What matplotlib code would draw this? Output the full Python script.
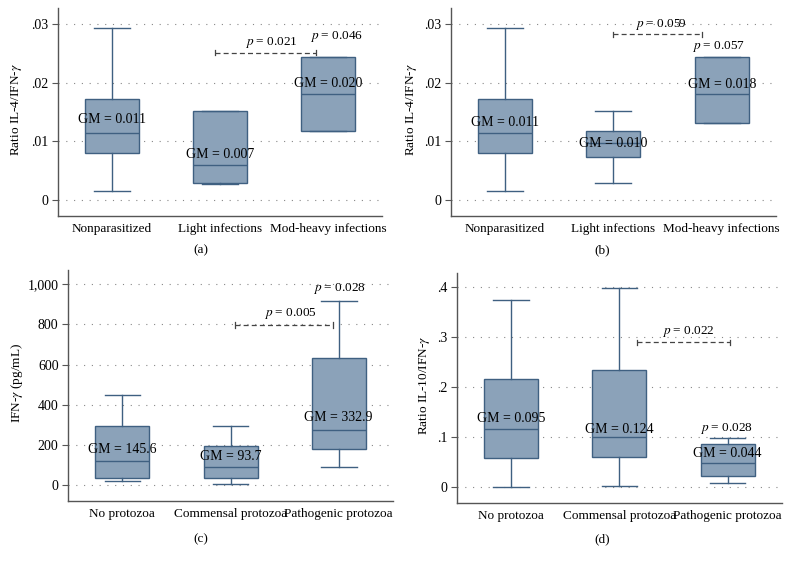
import numpy as np
import matplotlib
matplotlib.use("Agg")
import matplotlib.pyplot as plt

plt.rcParams["font.family"] = ["Liberation Serif", "DejaVu Serif"]
plt.rcParams["mathtext.fontset"] = "stix"

BOX_FILL = "#8ba2b9"
BOX_EDGE = "#3f6081"
AXIS_COL = "#555555"

# ---- data ---------------------------------------------------------------
helminth_groups = ["Nonparasitized", "Light infections", "Mod-heavy infections"]
protozoa_groups = ["No protozoa", "Commensal protozoa", "Pathogenic protozoa"]

# each row: whislo, q1, median, q3, whishi
a_stats = [[0.0016, 0.0080, 0.0114, 0.01725, 0.0293],
           [0.0028, 0.0029, 0.0059, 0.0151, 0.0151],
           [0.0118, 0.0118, 0.0180, 0.0244, 0.0244]]
a_gm = ["0.011", "0.007", "0.020"]

b_stats = [[0.0016, 0.0080, 0.0114, 0.01725, 0.0293],
           [0.0029, 0.0074, 0.0098, 0.0118, 0.0151],
           [0.0132, 0.0132, 0.0180, 0.0244, 0.0244]]
b_gm = ["0.011", "0.010", "0.018"]

c_stats = [[20, 38, 122, 297, 448],
           [8, 38, 93, 197, 297],
           [93, 182, 275, 632, 918]]
c_gm = ["145.6", "93.7", "332.9"]

d_stats = [[0.001, 0.058, 0.116, 0.217, 0.375],
           [0.0026, 0.0606, 0.100, 0.2346, 0.399],
           [0.008, 0.022, 0.049, 0.087, 0.099]]
d_gm = ["0.095", "0.124", "0.044"]

panels = [
    dict(key="a", groups=helminth_groups, stats=a_stats, gm=a_gm,
         gm_y=[0.01365, 0.0077, 0.01986], ylabel="Ratio IL-4/IFN-$\\gamma$",
         ylim=(-0.0027, 0.0327), yticks=[0, 0.01, 0.02, 0.03],
         yticklabels=["0", ".01", ".02", ".03"],
         bracket=(1.95, 2.89, 0.02507), p_br=("0.021", 2.48, 0.0269),
         p_top=("0.046", 3.08, 0.0278),
         rect=[0.0725, 0.6184, 0.405, 0.3675], lab_x=-0.104),
    dict(key="b", groups=helminth_groups, stats=b_stats, gm=b_gm,
         gm_y=[0.0132, 0.0096, 0.0197], ylabel="Ratio IL-4/IFN-$\\gamma$",
         ylim=(-0.0027, 0.0327), yticks=[0, 0.01, 0.02, 0.03],
         yticklabels=["0", ".01", ".02", ".03"],
         bracket=(2.0, 2.82, 0.0282), p_br=("0.059", 2.44, 0.0299),
         p_top=("0.057", 2.97, 0.0262),
         rect=[0.5634, 0.6184, 0.4066, 0.3675], lab_x=-0.099),
    dict(key="c", groups=protozoa_groups, stats=c_stats, gm=c_gm,
         gm_y=[179, 141, 336], ylabel="IFN-$\\gamma$ (pg/mL)",
         ylim=(-77, 1071), yticks=[0, 200, 400, 600, 800, 1000],
         yticklabels=["0", "200", "400", "600", "800", "1,000"],
         bracket=(2.04, 2.95, 797), p_br=("0.005", 2.55, 852),
         p_top=("0.028", 3.01, 980),
         rect=[0.0854, 0.1154, 0.4056, 0.4076], lab_x=-0.134),
    dict(key="d", groups=protozoa_groups, stats=d_stats, gm=d_gm,
         gm_y=[0.137, 0.116, 0.068], ylabel="Ratio IL-10/IFN-$\\gamma$",
         ylim=(-0.031, 0.4286), yticks=[0, 0.1, 0.2, 0.3, 0.4],
         yticklabels=["0", ".1", ".2", ".3", ".4"],
         bracket=(2.16, 3.02, 0.29), p_br=("0.022", 2.64, 0.311),
         p_top=("0.028", 2.99, 0.118),
         rect=[0.5716, 0.1118, 0.4054, 0.4059], lab_x=-0.077),
]

fig = plt.figure(figsize=(8, 5.66), dpi=100)
FS = 9.5

for p in panels:
    ax = fig.add_axes(p["rect"])
    bxp_stats = []
    for lab, s in zip(p["groups"], p["stats"]):
        bxp_stats.append(dict(label=lab, whislo=s[0], q1=s[1], med=s[2],
                              q3=s[3], whishi=s[4], fliers=[]))
    lw = 1.0
    ax.bxp(bxp_stats, positions=[1, 2, 3], widths=0.5, capwidths=0.33,
           patch_artist=True, showfliers=False,
           boxprops=dict(facecolor=BOX_FILL, edgecolor=BOX_EDGE, linewidth=lw),
           medianprops=dict(color=BOX_EDGE, linewidth=lw),
           whiskerprops=dict(color=BOX_EDGE, linewidth=lw),
           capprops=dict(color=BOX_EDGE, linewidth=lw), zorder=3)

    ax.set_xlim(0.5, 3.5)
    ax.set_ylim(*p["ylim"])
    ax.set_yticks(p["yticks"])
    ax.set_yticklabels(p["yticklabels"], fontsize=10)
    ax.set_xticks([1, 2, 3])
    ax.set_xticklabels(p["groups"], fontsize=FS)
    ax.tick_params(axis="x", length=0, pad=5)
    ax.tick_params(axis="y", length=4, width=0.8, color=AXIS_COL, pad=3)
    ax.yaxis.grid(True, linestyle=(0, (1, 6)), color="#888888", linewidth=0.8)
    ax.set_axisbelow(True)
    for side in ["top", "right"]:
        ax.spines[side].set_visible(False)
    for side in ["left", "bottom"]:
        ax.spines[side].set_color(AXIS_COL)
        ax.spines[side].set_linewidth(1.0)

    ax.set_ylabel(p["ylabel"], fontsize=FS)
    ax.yaxis.set_label_coords(p["lab_x"], 0.51)

    # GM annotations
    for i, (g, gy) in enumerate(zip(p["gm"], p["gm_y"])):
        ax.text(i + 1, gy, "GM = " + g, ha="center", va="center",
                fontsize=10, zorder=5)

    # comparison bracket
    x0, x1, by = p["bracket"]
    ax.plot([x0, x1], [by, by], linestyle=(0, (4, 2.5)), color="#444444",
            linewidth=0.9, zorder=4)
    span = p["ylim"][1] - p["ylim"][0]
    for xx in (x0, x1):
        ax.plot([xx, xx], [by - span * 0.012, by + span * 0.012],
                color="#444444", linewidth=0.9, zorder=4)
    txt, tx, ty = p["p_br"]
    ax.text(tx, ty, "$p$ = " + txt, ha="center", va="center", fontsize=FS)
    txt, tx, ty = p["p_top"]
    ax.text(tx, ty, "$p$ = " + txt, ha="center", va="center", fontsize=FS)

fig.text(0.251, 0.558, "(a)", ha="center", va="center", fontsize=FS)
fig.text(0.7525, 0.558, "(b)", ha="center", va="center", fontsize=FS)
fig.text(0.251, 0.0477, "(c)", ha="center", va="center", fontsize=FS)
fig.text(0.7525, 0.0477, "(d)", ha="center", va="center", fontsize=FS)

fig.savefig("out.png", dpi=100)
